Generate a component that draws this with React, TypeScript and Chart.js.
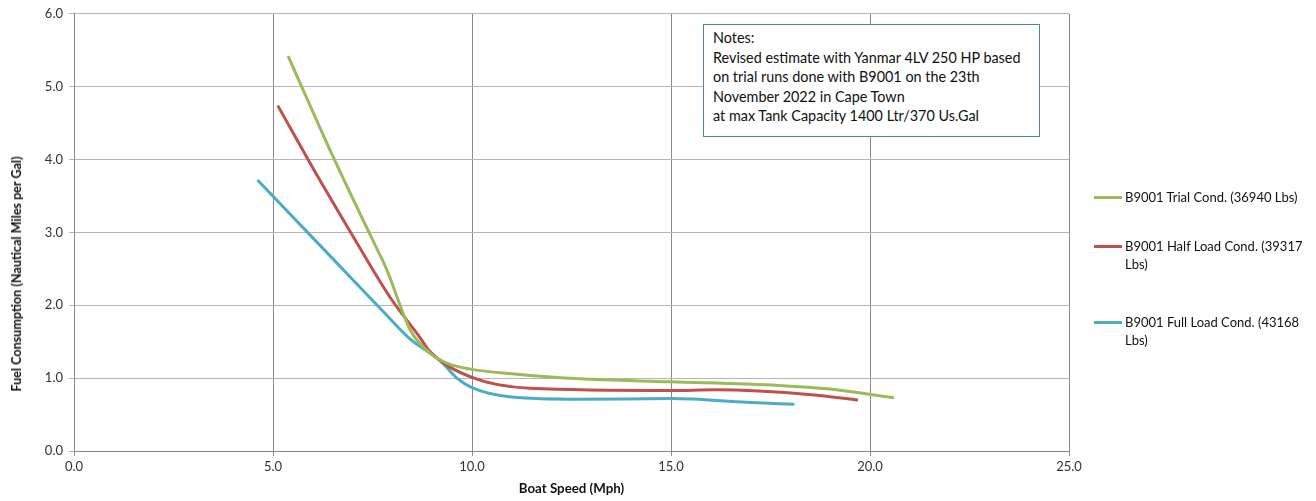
import React, { useEffect, useRef } from "react";
import { Chart, registerables } from "chart.js";

Chart.register(...registerables);

const seriesLabels = [
  "B9001 Trial Cond. (36940 Lbs)",
  "B9001 Half Load Cond. (39317 Lbs)",
  "B9001 Full Load Cond. (43168 Lbs)",
];
const seriesColors = ["#9bbb59", "#c0504d", "#4bacc6"];

const trialSpeed = [5.38, 6.5, 7.5, 7.85, 8.45, 8.95, 9.4, 10.0, 11.0, 12.7, 15.0, 17.7, 19.0, 20.6];
const trialFuel = [5.42, 4.05, 2.9, 2.5, 1.66, 1.34, 1.2, 1.12, 1.06, 0.99, 0.95, 0.9, 0.85, 0.73];

const halfSpeed = [5.12, 6.1, 6.93, 7.94, 8.69, 8.95, 10.0, 11.46, 15.0, 16.1, 18.6, 19.7];
const halfFuel = [4.74, 3.79, 3.02, 2.11, 1.56, 1.36, 1.01, 0.86, 0.83, 0.84, 0.77, 0.7];

const fullSpeed = [4.61, 6.5, 7.69, 8.44, 9.2, 9.62, 10.0, 11.0, 12.7, 15.0, 16.9, 18.1];
const fullFuel = [3.72, 2.64, 1.96, 1.54, 1.24, 1.0, 0.87, 0.74, 0.71, 0.72, 0.67, 0.64];

const xAxisTitle = "Boat Speed (Mph)";
const yAxisTitle = "Fuel Consumption (Nautical Miles per Gal)";

const notesLines = [
  "Notes:",
  "Revised estimate with Yanmar 4LV 250 HP based",
  "on trial runs done with B9001 on the 23th",
  "November 2022 in Cape Town",
  "at max Tank Capacity 1400 Ltr/370 Us.Gal",
];

const legendTops = [188, 237, 313];

const FONT = "Lato, 'Open Sans', sans-serif";

export default function App() {
  const canvasRef = useRef<HTMLCanvasElement | null>(null);

  useEffect(() => {
    if (!canvasRef.current) return;
    const seriesX = [trialSpeed, halfSpeed, fullSpeed];
    const seriesY = [trialFuel, halfFuel, fullFuel];
    const datasets = seriesLabels.map((label, i) => ({
      label,
      data: seriesX[i].map((x, j) => ({ x, y: seriesY[i][j] })),
      borderColor: seriesColors[i],
      backgroundColor: seriesColors[i],
      borderWidth: 3,
      pointRadius: 0,
      fill: false,
      cubicInterpolationMode: "monotone" as const,
    }));

    const chart = new Chart(canvasRef.current, {
      type: "line",
      data: { datasets },
      options: {
        animation: false,
        responsive: false,
        maintainAspectRatio: false,
        layout: { padding: { left: 0, top: 12, right: 247, bottom: 0 } },
        plugins: {
          legend: { display: false },
          tooltip: { enabled: false },
        },
        scales: {
          x: {
            type: "linear",
            min: 0,
            max: 25,
            ticks: {
              stepSize: 5,
              callback: (v: any) => Number(v).toFixed(1),
              color: "#333",
              font: { family: FONT, size: 13 },
              padding: 3,
            },
            grid: { color: "#8a8a8a", tickLength: 5, lineWidth: 1 },
            border: { color: "#8a8a8a" },
            title: {
              display: true,
              text: xAxisTitle,
              color: "#111",
              font: { family: FONT, size: 13.3, weight: "bold" },
              padding: { top: 0, bottom: 4 },
            },
            afterFit: (scale: any) => {
              scale.height = 50;
            },
          },
          y: {
            type: "linear",
            min: 0,
            max: 6,
            ticks: {
              stepSize: 1,
              callback: (v: any) => Number(v).toFixed(1),
              color: "#333",
              font: { family: FONT, size: 13 },
              padding: 6,
            },
            grid: { color: "#b5b5b5", tickLength: 5, lineWidth: 1 },
            border: { color: "#8a8a8a" },
            title: { display: false, text: yAxisTitle },
            afterFit: (scale: any) => {
              scale.width = 74;
            },
          },
        },
      },
    });
    return () => chart.destroy();
  }, []);

  return (
    <div
      style={{
        position: "fixed",
        left: 0,
        top: 0,
        width: 1316,
        height: 501,
        background: "#fff",
        fontFamily: FONT,
      }}
    >
      <canvas ref={canvasRef} width={1316} height={501} style={{ display: "block" }} />
      <div
        style={{
          position: "absolute",
          left: 17,
          top: 274,
          transform: "translate(-50%, -50%) rotate(-90deg)",
          whiteSpace: "nowrap",
          fontSize: 12.6,
          fontWeight: "bold",
          color: "#111",
          lineHeight: "16px",
        }}
      >
        {yAxisTitle}
      </div>
      <div
        style={{
          position: "absolute",
          left: 703,
          top: 24,
          width: 337,
          height: 113,
          boxSizing: "border-box",
          border: "1px solid #4f81bd",
          background: "#fff",
          padding: "3px 0 0 9px",
          fontSize: 14.4,
          lineHeight: "19.6px",
          color: "#111",
          whiteSpace: "nowrap",
        }}
      >
        {notesLines.map((l, i) => (
          <div key={i}>{l}</div>
        ))}
      </div>
      {seriesLabels.map((label, i) => (
        <div
          key={label}
          style={{
            position: "absolute",
            left: 1094,
            top: legendTops[i],
            display: "flex",
            alignItems: "flex-start",
          }}
        >
          <div
            style={{
              width: 28,
              height: 3,
              marginTop: 7.5,
              background: seriesColors[i],
              flex: "none",
            }}
          />
          <div
            style={{
              marginLeft: 3,
              width: 182,
              fontSize: 13,
              lineHeight: "18px",
              color: "#111",
            }}
          >
            {label}
          </div>
        </div>
      ))}
    </div>
  );
}
